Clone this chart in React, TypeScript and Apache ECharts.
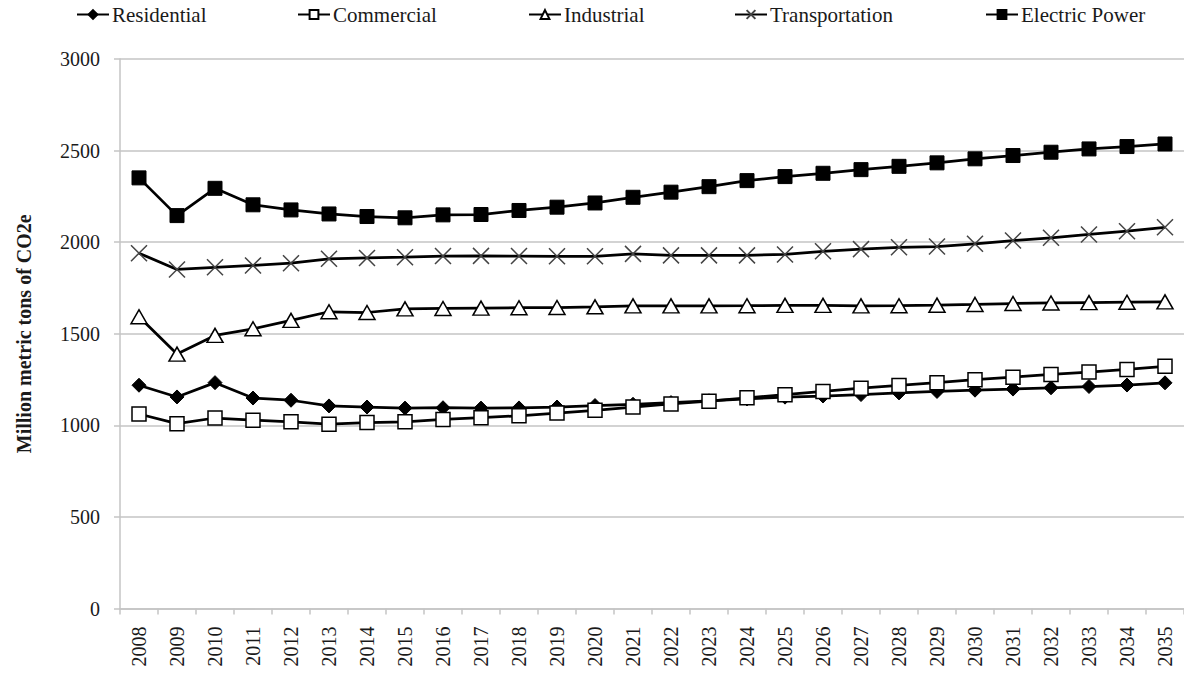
import React, { useEffect, useRef } from "react";
import * as echarts from "echarts";

const years = [
  "2008", "2009", "2010", "2011", "2012", "2013", "2014", "2015", "2016", "2017",
  "2018", "2019", "2020", "2021", "2022", "2023", "2024", "2025", "2026", "2027",
  "2028", "2029", "2030", "2031", "2032", "2033", "2034", "2035",
];

const residential = [
  1219, 1155, 1233, 1149, 1137, 1106, 1100, 1094, 1096, 1094,
  1095, 1100, 1108, 1115, 1124, 1134, 1144, 1154, 1160, 1168,
  1177, 1185, 1192, 1198, 1205, 1212, 1220, 1232,
];

const commercial = [
  1062, 1009, 1040, 1028, 1019, 1006, 1015, 1019, 1032, 1042,
  1052, 1067, 1082, 1100, 1117, 1132, 1150, 1167, 1185, 1203,
  1218, 1233, 1249, 1263, 1278, 1291, 1305, 1322,
];

const industrial = [
  1593, 1389, 1491, 1527, 1573, 1620, 1616, 1636, 1638, 1640,
  1642, 1643, 1647, 1652, 1652, 1652, 1653, 1655, 1655, 1652,
  1653, 1656, 1660, 1665, 1668, 1670, 1672, 1674,
];

const transportation = [
  1940, 1851, 1863, 1873, 1885, 1909, 1914, 1918, 1924, 1925,
  1924, 1923, 1923, 1936, 1928, 1928, 1928, 1933, 1950, 1962,
  1972, 1976, 1991, 2009, 2024, 2042, 2060, 2081,
];

const electricPower = [
  2351, 2145, 2294, 2204, 2176, 2154, 2140, 2133, 2149, 2151,
  2173, 2191, 2214, 2245, 2273, 2303, 2336, 2358, 2376, 2396,
  2414, 2433, 2455, 2473, 2491, 2509, 2522, 2536,
];

const seriesNames = ["Residential", "Commercial", "Industrial", "Transportation", "Electric Power"];
const yTicks = { min: 0, max: 3000, interval: 500 };

const FONT = "Liberation Serif";
const TEXT = "#1a1a1a";
const GRID = "#c4c4c4";

export default function App() {
  const ref = useRef<HTMLDivElement>(null);

  useEffect(() => {
    if (!ref.current) return;
    const chart = echarts.init(ref.current, undefined, { renderer: "svg" });

    const lineStyle = { color: "#000", width: 2.75 };
    const legendLefts = [76, 297, 528, 734, 985];

    const option: any = {
      animation: false,
      backgroundColor: "#fff",
      textStyle: { fontFamily: FONT },
      legend: seriesNames.map((n, i) => ({
        data: [n],
        left: legendLefts[i],
        top: 4,
        padding: 0,
        itemWidth: 32,
        itemHeight: 11,
        textStyle: { fontFamily: FONT, fontSize: 21, color: TEXT, padding: [0, 0, 0, -2] },
        selectedMode: false,
      })),
      grid: { left: 120, top: 59, width: 1064, height: 549.5, containLabel: false },
      xAxis: {
        type: "category",
        data: years,
        boundaryGap: true,
        axisLine: { show: true, lineStyle: { color: GRID, width: 1.5 } },
        axisTick: { show: true, length: 6, lineStyle: { color: GRID, width: 1.5 } },
        axisLabel: {
          rotate: 90,
          margin: 18,
          fontFamily: FONT,
          fontSize: 20,
          color: TEXT,
          interval: 0,
        },
      },
      yAxis: {
        type: "value",
        min: yTicks.min,
        max: yTicks.max,
        interval: yTicks.interval,
        name: "Million metric tons of CO2e",
        nameLocation: "middle",
        nameGap: 86,
        nameTextStyle: { fontFamily: FONT, fontSize: 20, fontWeight: "bold", color: TEXT },
        axisLine: { show: true, lineStyle: { color: GRID, width: 1.5 } },
        axisTick: { show: true, length: 6, lineStyle: { color: GRID, width: 1.5 } },
        axisLabel: {
          margin: 20,
          fontFamily: FONT,
          fontSize: 20,
          color: TEXT,
          formatter: (v: number) => String(v),
        },
        splitLine: { show: true, lineStyle: { color: GRID, width: 1.5 } },
      },
      series: [
        {
          name: "Residential",
          type: "line",
          data: residential,
          symbol: "diamond",
          symbolSize: 14,
          lineStyle,
          itemStyle: { color: "#000", borderColor: "#000", borderWidth: 1 },
          z: 2,
        },
        {
          name: "Commercial",
          type: "line",
          data: commercial,
          symbol: "rect",
          symbolSize: 14,
          lineStyle,
          itemStyle: { color: "#fff", borderColor: "#000", borderWidth: 1.5 },
          z: 3,
        },
        {
          name: "Industrial",
          type: "line",
          data: industrial,
          symbol: "triangle",
          symbolSize: [16, 14],
          lineStyle,
          itemStyle: { color: "#fff", borderColor: "#000", borderWidth: 1.5 },
          z: 2,
        },
        {
          name: "Transportation",
          type: "line",
          data: transportation,
          symbol: "path://M0,0L10,10M10,0L0,10",
          symbolSize: 16,
          lineStyle,
          itemStyle: { color: "rgba(0,0,0,0)", borderColor: "#444", borderWidth: 1.5 },
          z: 2,
        },
        {
          name: "Electric Power",
          type: "line",
          data: electricPower,
          symbol: "rect",
          symbolSize: 14,
          lineStyle,
          itemStyle: { color: "#000", borderColor: "#000", borderWidth: 1 },
          z: 2,
        },
      ],
    };

    chart.setOption(option);
    return () => chart.dispose();
  }, []);

  return (
    <div
      ref={ref}
      style={{ position: "fixed", left: 0, top: 0, width: 1184, height: 677, background: "#fff" }}
    />
  );
}
